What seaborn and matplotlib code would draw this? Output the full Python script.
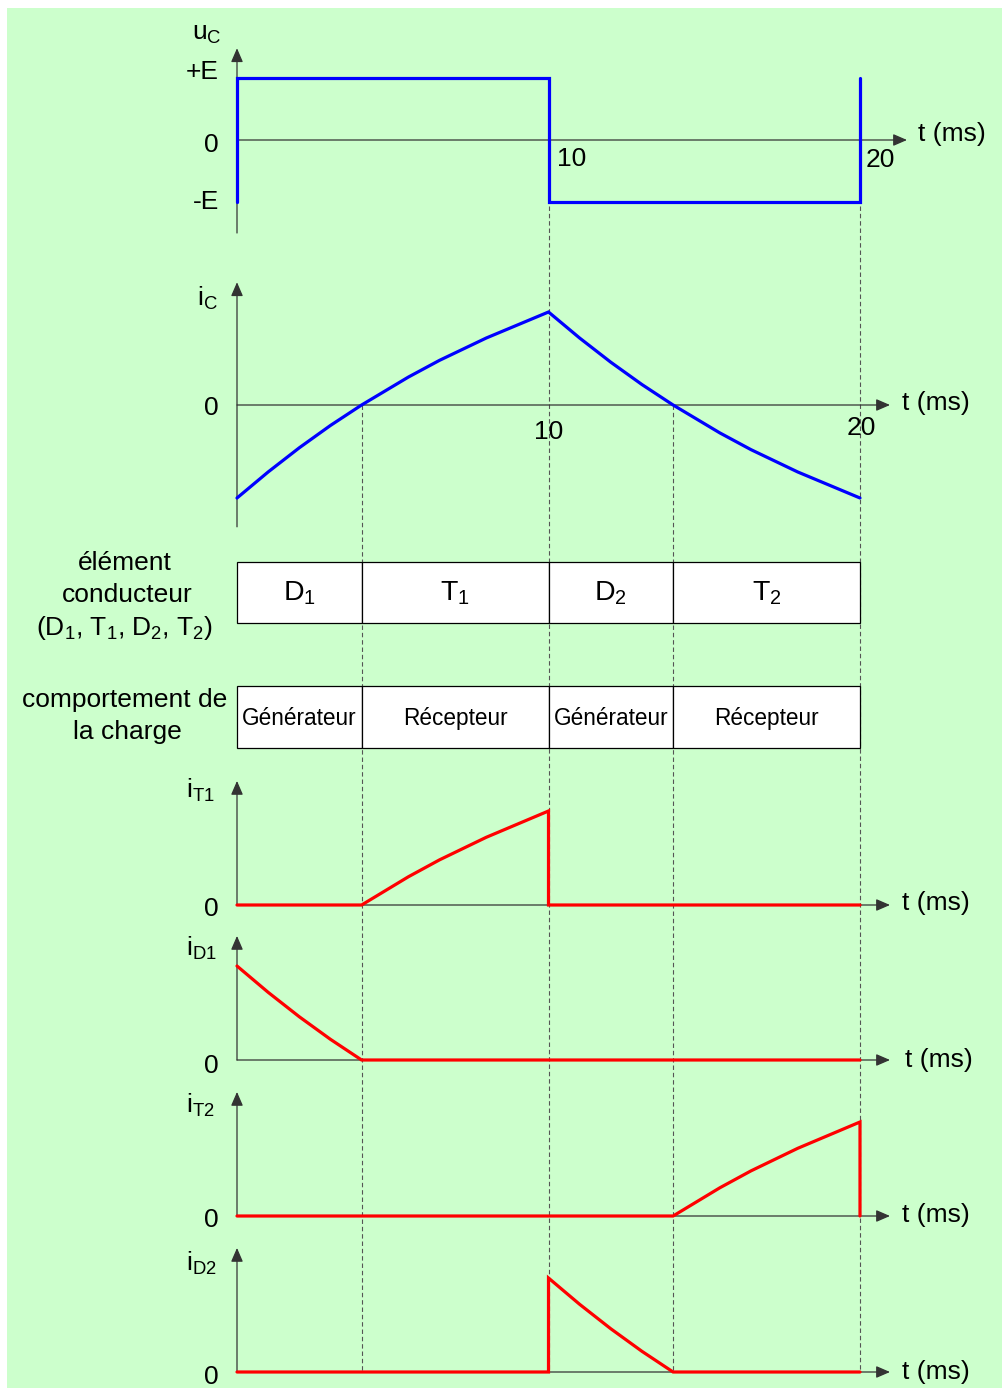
import matplotlib
matplotlib.use("Agg")
import matplotlib.pyplot as plt
import seaborn as sns
from matplotlib.patches import Rectangle

# ---------------------------------------------------------------- data
# Time in ms, amplitudes normalised (E for the voltage, peak current for i)
t_uc = [0, 0, 10, 10, 20, 20]
u_c = [-1, 1, 1, -1, -1, 1]

# load current over one period (half-ms steps)
t_ic = [0, 0.5, 1, 1.5, 2, 2.5, 3, 3.5, 4, 4.5, 5, 5.5, 6, 6.5, 7, 7.5, 8,
        8.5, 9, 9.5, 10,
        10.5, 11, 11.5, 12, 12.5, 13, 13.5, 14, 14.5, 15, 15.5, 16, 16.5, 17,
        17.5, 18, 18.5, 19, 19.5, 20]
i_c = [-1.00, -0.86, -0.72, -0.59, -0.46, -0.34, -0.22, -0.11, 0.00, 0.10,
       0.20, 0.30, 0.39, 0.48, 0.56, 0.64, 0.72, 0.79, 0.86, 0.93, 1.00,
       0.86, 0.72, 0.59, 0.46, 0.34, 0.22, 0.11, 0.00, -0.10, -0.20, -0.30,
       -0.39, -0.48, -0.56, -0.64, -0.72, -0.79, -0.86, -0.93, -1.00]

t_it1 = [0, 4, 4.5, 5, 5.5, 6, 6.5, 7, 7.5, 8, 8.5, 9, 9.5, 10, 10, 20]
i_t1 = [0, 0.00, 0.10, 0.20, 0.30, 0.39, 0.48, 0.56, 0.64, 0.72, 0.79, 0.86,
        0.93, 1.00, 0, 0]

t_id1 = [0, 0.5, 1, 1.5, 2, 2.5, 3, 3.5, 4, 20]
i_d1 = [1.00, 0.86, 0.72, 0.59, 0.46, 0.34, 0.22, 0.11, 0.00, 0]

t_it2 = [0, 14, 14.5, 15, 15.5, 16, 16.5, 17, 17.5, 18, 18.5, 19, 19.5, 20,
         20]
i_t2 = [0, 0.00, 0.10, 0.20, 0.30, 0.39, 0.48, 0.56, 0.64, 0.72, 0.79, 0.86,
        0.93, 1.00, 0]

t_id2 = [0, 10, 10, 10.5, 11, 11.5, 12, 12.5, 13, 13.5, 14, 20]
i_d2 = [0, 0, 1.00, 0.86, 0.72, 0.59, 0.46, 0.34, 0.22, 0.11, 0.00, 0]

phase_edges = [0, 4, 10, 14, 20]
conducting = ["D1", "T1", "D2", "T2"]
behaviour = ["Générateur", "Récepteur", "Générateur", "Récepteur"]
u_levels = [1, 0, -1]
u_level_labels = ["+E", "0", "-E"]
time_ticks = [10, 20]

# ---------------------------------------------------------------- style
sns.set_theme(style="white")
plt.rcParams["font.family"] = ["Liberation Sans", "DejaVu Sans"]
plt.rcParams["mathtext.default"] = "regular"
plt.rcParams["text.color"] = "black"

W, H = 1003, 1388
X0_PX, PX_PER_MS = 237, 31.15
XLIM = (-X0_PX / PX_PER_MS, (W - X0_PX) / PX_PER_MS)
BG = "#CCFFCC"
AXC = "#333333"
FS = 19

fig = plt.figure(figsize=(W / 100, H / 100), dpi=100)
fig.patch.set_facecolor("white")
fig.patches.append(Rectangle((7 / W, 0), 1 - 7 / W, 1 - 8 / H,
                             transform=fig.transFigure, facecolor=BG,
                             edgecolor="none", zorder=-10))


def overlay(xlim, ylim):
    ax = fig.add_axes([0, 0, 1, 1])
    ax.set_xlim(*xlim)
    ax.set_ylim(*ylim)
    ax.axis("off")
    ax.patch.set_alpha(0)
    return ax


def sub(name):
    return f"{name[0]}$_{{{name[1:]}}}$"


# page: x in ms, y in pixels (top down) -> switching guides and the tables
page = overlay(XLIM, (H, 0))
guide_top = {4: 405, 10: 140, 14: 405, 20: 140}
for t in phase_edges[1:]:
    page.plot([t, t], [guide_top[t], 1372], color="#555555", lw=0.8,
              dashes=(4, 2.6), zorder=1)

rows = [(562, 623, [sub(c) for c in conducting], 20.5),
        (686, 748, behaviour, 16.3)]
for top, bot, labels, fs in rows:
    for k, lab in enumerate(labels):
        a, b = phase_edges[k], phase_edges[k + 1]
        page.add_patch(Rectangle((a, top), b - a, bot - top, facecolor="white",
                                 edgecolor="black", lw=0.9, zorder=3))
        page.text((a + b) / 2, (top + bot) / 2 + 1, lab, ha="center",
                  va="center", fontsize=fs, zorder=4)


def panel(zero_px, unit_px):
    return overlay(XLIM, (-(H - zero_px) / unit_px, zero_px / unit_px))


def axes_arrows(ax, y_bottom, y_top, x_tip):
    head = dict(arrowstyle="-|>,head_length=0.6,head_width=0.26",
                mutation_scale=14, color=AXC, lw=0.9, shrinkA=0, shrinkB=0)
    ax.annotate("", xy=(0, y_top), xytext=(0, y_bottom),
                arrowprops=dict(head, facecolor="black"))
    ax.annotate("", xy=(x_tip, 0), xytext=(0, 0),
                arrowprops=dict(head, facecolor="black"))


def trace(ax, t, y, color):
    sns.lineplot(x=t, y=y, ax=ax, estimator=None, sort=False, color=color,
                 linewidth=2.3, zorder=5, solid_joinstyle="miter")
    ax.set_xlim(*XLIM)


# panels: (zero line in px, px per unit)
ax_u = panel(140, 62)
axes_arrows(ax_u, -1.5, 1.48, (907 - X0_PX) / PX_PER_MS)
trace(ax_u, t_uc, u_c, "#0000FF")

ax_i = panel(405, 93)
axes_arrows(ax_i, -1.31, 1.32, (890 - X0_PX) / PX_PER_MS)
trace(ax_i, t_ic, i_c, "#0000FF")

for zero_px, t, y in [(905, t_it1, i_t1), (1060, t_id1, i_d1),
                      (1216, t_it2, i_t2), (1372, t_id2, i_d2)]:
    ax = panel(zero_px, 94)
    axes_arrows(ax, 0, 1.32, (890 - X0_PX) / PX_PER_MS)
    trace(ax, t, y, "#FF0000")

# voltage levels and time ticks
for lv, lab, dy in zip(u_levels, u_level_labels, [0.1, -0.08, 0.0]):
    ax_u.text(-0.58, lv + dy, lab, ha="right", va="center", fontsize=FS)
ax_u.text(time_ticks[0] + 0.75, -0.3, str(time_ticks[0]), ha="center",
          va="center", fontsize=FS)
ax_u.text(time_ticks[1] + 0.65, -0.33, str(time_ticks[1]), ha="center",
          va="center", fontsize=FS)
ax_i.text(time_ticks[0], -0.29, str(time_ticks[0]), ha="center", va="center",
          fontsize=FS)
ax_i.text(time_ticks[1] + 0.05, -0.25, str(time_ticks[1]), ha="center",
          va="center", fontsize=FS)

# labels in pixel space
lab = overlay((0, W), (H, 0))
lab.text(192, 40, "u$_C$", ha="left", va="baseline", fontsize=FS)
lab.text(197, 306, "i$_C$", ha="left", va="baseline", fontsize=FS)
for y, name in [(798, "T1"), (956, "D1"), (1113, "T2"), (1271, "D2")]:
    lab.text(186, y, "i$_{" + name + "}$", ha="left", va="baseline",
             fontsize=FS)

for y in [408, 909, 1066, 1220, 1377]:
    lab.text(219, y, "0", ha="right", va="center", fontsize=FS)

for x, y in [(918, 134), (902, 403), (902, 903), (905, 1060), (902, 1215),
             (902, 1372)]:
    lab.text(x, y, "t (ms)", ha="left", va="center", fontsize=FS)

lab.text(125, 563, "élément", ha="center", va="center", fontsize=FS)
lab.text(127, 595, "conducteur", ha="center", va="center", fontsize=FS)
lab.text(125, 628, "(" + ", ".join(sub(c) for c in conducting) + ")",
         ha="center", va="center", fontsize=FS)
lab.text(125, 700, "comportement de", ha="center", va="center", fontsize=FS)
lab.text(127, 732, "la charge", ha="center", va="center", fontsize=FS)

fig.savefig("out.png", dpi=100, facecolor=fig.get_facecolor())
